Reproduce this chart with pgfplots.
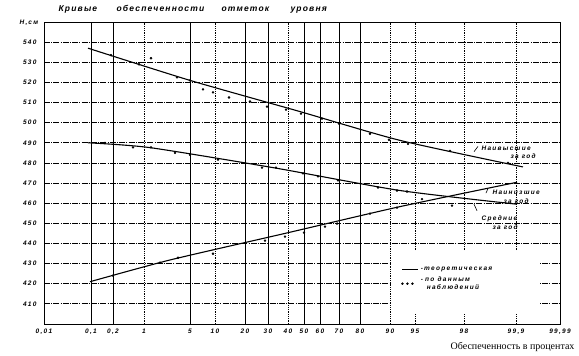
\documentclass[border=0pt]{standalone}
\usepackage{fontspec}
\setmainfont{Liberation Serif}
\newfontfamily\hand[LetterSpace=20]{Liberation Sans}
\newfontfamily\handt[LetterSpace=14]{Liberation Sans}
\usepackage{pgfplots}
\pgfplotsset{compat=1.18}
\newcommand{\hf}{\hand\bfseries\itshape\fontsize{6.5}{7.5}\selectfont}
\newcommand{\tf}{\handt\bfseries\itshape\fontsize{8.5}{10}\selectfont}
\begin{document}
\begin{tikzpicture}[x=1pt,y=1pt]
\useasboundingbox (0pt,0pt) rectangle (579pt,356pt);
\begin{axis}[
  at={(44pt,32pt)}, anchor=south west,
  width=516pt, height=302pt, scale only axis,
  xmin=44, xmax=560, ymin=400, ymax=550,
  axis line style={line width=0.9pt},
  major tick length=0pt,
  xtick={44,91,113,144,190,215,245,268,288,304,320,339,360,390,415,464,516,560},
  xticklabels={{0,01},{0,1},{0,2},1,5,10,20,30,40,50,60,70,80,90,95,98,{99,9},{99,99}},
  ytick={410,420,...,540},
  yticklabels={410,420,430,440,450,460,470,480,490,500,510,520,530,540},
  xticklabel style={font=\hf, yshift=-1pt},
  yticklabel style={font=\hf, xshift=-4pt},
  ymajorgrids,
  grid style={black, line width=0.8pt, dash pattern=on 6pt off 1.2pt on 1pt off 1.2pt},
  legend style={at={(axis cs:400,430)}, anchor=north west, draw=none, fill=none,
    font=\hf, cells={anchor=west, align=left}, inner sep=1pt, row sep=1pt},
]
% vertical grid lines of the probability paper
\foreach \u in {91,113,190,245,268,304,320,339,360}{
  \edef\tmp{\noexpand\draw[black, line width=0.6pt] (axis cs:\u,400) -- (axis cs:\u,550);}\tmp}
\foreach \u in {144,215,288,390,415,464,516}{
  \edef\tmp{\noexpand\draw[black, line width=0.8pt, densely dotted] (axis cs:\u,400) -- (axis cs:\u,550);}\tmp}
\fill[white] (axis cs:391.5,436.5) rectangle (axis cs:540,405.5);

% theoretical curves
\addplot[black, line width=1.1pt, smooth, tension=0.4,
  legend image code/.code={\draw[line width=0.9pt] (0pt,0pt) -- (16pt,0pt);}]
  coordinates {(88,537)(190,521)(300,505.5)(400,491.2)(523,478)};
\addlegendentry{-\,теоретическая}
\addplot[only marks, mark=*, mark size=1pt, black,
  legend image code/.code={\fill (0pt,0pt) circle (1pt) (5pt,0pt) circle (1pt) (10pt,0pt) circle (1pt);}]
  coordinates {(111,533.5)(139,529)(151,532)(177,522.5)(190,521)(203,516.5)(213,515)(229,512.5)(250,510.5)(267,508)(286,506.5)(301,504.5)(322,502)(339,499.5)(370,494.5)(389,491.5)(408,489.5)(450,486)(508,480)};
\addlegendentry{-\,\,по\,\,\,данным\\\hspace*{6pt}наблюдений}

\addplot[black, line width=1.1pt, smooth, tension=0.4, forget plot]
  coordinates {(88,490)(150,487.6)(275,477.5)(400,466.3)(517,459.5)};
\addplot[only marks, mark=*, mark size=1pt, black, forget plot]
  coordinates {(105,490)(133,487.7)(151,487.7)(175,485)(190,484)(218,481.7)(262,477.7)(276,477.7)(303,474.8)(318,473.3)(338,471.3)(378,467.8)(397,466.3)(407,465.8)(452,458.8)};

\addplot[black, line width=1.1pt, smooth, tension=0.4, forget plot]
  coordinates {(90,421)(170,431.8)(285,445)(400,458.3)(517,470.4)};
\addplot[only marks, mark=*, mark size=1pt, black, forget plot]
  coordinates {(113,424)(160,430.5)(178,432.9)(213,434.9)(265,441.4)(285,443.4)(304,445.4)(325,448.4)(337,449.9)(370,454.8)(397,457.8)(422,462)};

% curve annotations
\node[font=\hf, anchor=west] at (axis cs:478,487.4) {Наивысшие};
\node[font=\hf, anchor=west] at (axis cs:507,483.2) {за год};
\draw[line width=0.6pt] (axis cs:478,488.2) -- (axis cs:474,485.6);
\node[font=\hf, anchor=west] at (axis cs:489,465.6) {Наинизшие};
\node[font=\hf, anchor=west] at (axis cs:500,461.2) {за год};
\draw[line width=0.6pt] (axis cs:488,467.3) -- (axis cs:486,465.0);
\node[font=\hf, anchor=west] at (axis cs:478,452.3) {Средние};
\node[font=\hf, anchor=west] at (axis cs:489,448.1) {за год};
\draw[line width=0.6pt] (axis cs:477,456.3) -- (axis cs:474,459.5);
\end{axis}
% titles and labels
\node[font=\tf, anchor=base west] at (55pt,344pt) {Кривые};
\node[font=\tf, anchor=base west] at (113pt,344pt) {обеспеченности};
\node[font=\tf, anchor=base west] at (218pt,344pt) {отметок};
\node[font=\tf, anchor=base west] at (287pt,344pt) {уровня};
\node[font=\hf, anchor=base west] at (16pt,331pt) {Н,\,см};
\node[font=\fontsize{10}{12}\selectfont, anchor=base east] at (578pt,6pt) {Обеспеченность в процентах};
\end{tikzpicture}
\end{document}
